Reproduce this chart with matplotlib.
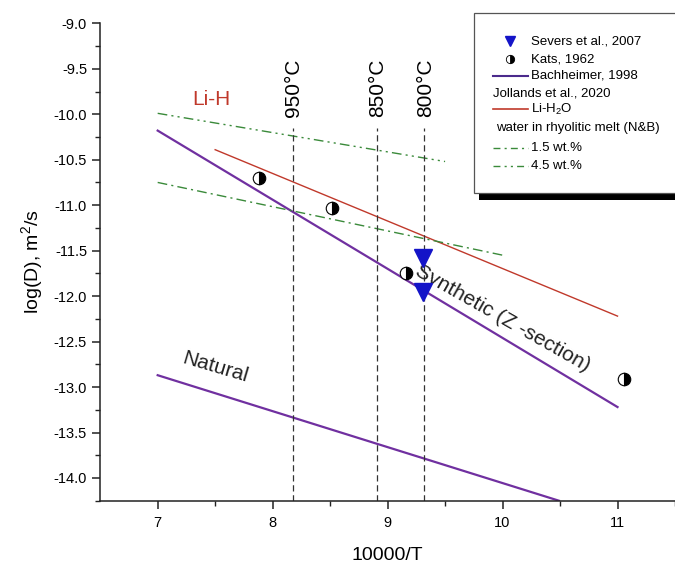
import matplotlib
matplotlib.use("Agg")
import matplotlib.pyplot as plt
from matplotlib.lines import Line2D
from matplotlib.patches import Rectangle

plt.rcParams['font.family'] = ['Liberation Sans', 'DejaVu Sans']
plt.rcParams['mathtext.fontset'] = 'custom'
plt.rcParams['mathtext.rm'] = 'Liberation Sans'
plt.rcParams['mathtext.it'] = 'Liberation Sans:italic'

# Kats, 1962 (10000/T, log D)
kats_x = [7.88, 8.52, 9.16, 11.06]
kats_y = [-10.70, -11.03, -11.75, -12.91]

# Severs et al., 2007
severs_x = [9.31, 9.31]
severs_y = [-11.58, -11.95]

# Bachheimer, 1998: synthetic (Z-section) and natural
synth_x = [7.0, 11.0]
synth_y = [-10.18, -13.22]
natural_x = [7.0, 10.49]
natural_y = [-12.87, -14.25]

# Jollands et al., 2020, Li-H2O
jol_x = [7.5, 11.0]
jol_y = [-10.39, -12.22]

# water in rhyolitic melt (N&B)
w15_x = [7.0, 10.0]
w15_y = [-10.75, -11.55]
w45_x = [7.0, 9.5]
w45_y = [-9.99, -10.52]

# isotherms
temps_c = [950, 850, 800]
temp_x = [10000 / (t + 273.15) for t in temps_c]

purple = '#7030a0'
red = '#c0392b'
green = '#3a8a3a'
blue = '#1414c8'

W, H = 675, 565
fig = plt.figure(figsize=(W / 100, H / 100), dpi=100)
ax = fig.add_axes([100.2 / W, 64.3 / H, 1 - 100.2 / W, 477.4 / H])

ax.plot(synth_x, synth_y, color=purple, lw=1.6)
ax.plot(natural_x, natural_y, color=purple, lw=1.6)
ax.plot(jol_x, jol_y, color=red, lw=1.0)
ax.plot(w15_x, w15_y, color=green, lw=1.0, linestyle=(0, (7, 3, 1.5, 3)))
ax.plot(w45_x, w45_y, color=green, lw=1.0, linestyle=(0, (7, 3, 1.5, 3, 1.5, 3)))

ax.vlines(temp_x, -14.25, -10.15, colors='#333333', lw=0.9, linestyles=(0, (5, 3)))
for t, x in zip(temps_c, temp_x):
    ax.text(x + 0.01, -10.03, f"{t}°C", rotation=90, ha='center', va='bottom',
            fontsize=15)

ax.plot(kats_x, kats_y, 'o', ms=9, fillstyle='right', markerfacecolor='black',
        markerfacecoloralt='white', markeredgecolor='black', mew=0.8, zorder=4)
ax.plot(severs_x, severs_y, 'v', ms=13, color=blue, zorder=5)

ax.text(7.47, -9.84, "Li-H", color=red, fontsize=15, ha='center', va='center')
ax.text(10.0, -12.24, "Synthetic (Z -section)", rotation=-29.5, rotation_mode='anchor',
        ha='center', va='center', fontsize=15, color='#222222')
ax.text(7.50, -12.78, "Natural", rotation=-16.5, rotation_mode='anchor',
        ha='center', va='center', fontsize=15, color='#222222')

ax.set_xlim(6.5, 6.5 + (W - 100.2) / 117)
ax.set_ylim(-14.25, -9.0)
ax.set_xticks([7, 8, 9, 10, 11])
ax.set_xticks([7.5, 8.5, 9.5, 10.5, 11.5], minor=True)
ax.set_yticks([-9.0 - 0.5 * i for i in range(11)])
ax.set_yticks([-9.25 - 0.5 * i for i in range(11)], minor=True)
ax.set_yticklabels([f"{-9.0 - 0.5 * i:.1f}" for i in range(11)])

for s in ['top', 'right']:
    ax.spines[s].set_visible(False)
for s in ['left', 'bottom']:
    ax.spines[s].set_linewidth(1.1)
    ax.spines[s].set_color('#222222')
ax.tick_params(which='major', length=6, width=1.1, labelsize=10.5, color='#222222')
ax.tick_params(which='minor', length=3.3, width=1.0, color='#222222')
ax.tick_params(axis='x', pad=5)
ax.tick_params(axis='y', pad=3.5)

ax.set_xlabel("10000/T", fontsize=14, labelpad=12)
ax.set_ylabel("log(D), m$^2$/s", fontsize=14, labelpad=6)


# legend box, drawn in pixel units from the top-left corner
def fp(x, y):
    return x / W, 1 - y / H


fig.add_artist(Rectangle(fp(479, 200), 220 / W, 181 / H, transform=fig.transFigure,
                         facecolor='black', edgecolor='none', zorder=10))
fig.add_artist(Rectangle(fp(474, 192.7), 230 / W, 179.4 / H, transform=fig.transFigure,
                         facecolor='white', edgecolor='#555555', lw=0.9, zorder=11))

lx0, lx1, tx = 492.7, 528.3, 530.7
fs = 9.5


def leg_text(x, y, s):
    fig.text(*fp(x, y), s, fontsize=fs, va='center', ha='left', zorder=12)


fig.add_artist(Line2D(*zip(fp(510, 40.5)), marker='v', ms=7, color=blue,
                      transform=fig.transFigure, zorder=12))
leg_text(tx, 41.7, "Severs et al., 2007")
fig.add_artist(Line2D(*zip(fp(510, 59.3)), marker='o', ms=6, fillstyle='right',
                      markerfacecolor='black', markerfacecoloralt='white',
                      markeredgecolor='black', mew=0.6, transform=fig.transFigure, zorder=12))
leg_text(tx, 59.3, "Kats, 1962")
fig.add_artist(Line2D(*zip(fp(lx0, 76), fp(lx1, 76)), color='#4b2a8c', lw=1.5,
                      transform=fig.transFigure, zorder=12))
leg_text(tx, 76, "Bachheimer, 1998")
leg_text(lx0, 93.3, "Jollands et al., 2020")
fig.add_artist(Line2D(*zip(fp(lx0, 109.3), fp(lx1, 109.3)), color=red, lw=1.2,
                      transform=fig.transFigure, zorder=12))
leg_text(tx, 109.3, "Li-H$_2$O")
leg_text(496, 127.7, "water in rhyolitic melt (N&B)")
fig.add_artist(Line2D(*zip(fp(lx0, 148.3), fp(lx1, 148.3)), color=green, lw=1.0,
                      linestyle=(0, (5, 3, 1.5, 3)), transform=fig.transFigure, zorder=12))
leg_text(tx, 148.3, "1.5 wt.%")
fig.add_artist(Line2D(*zip(fp(lx0, 166), fp(lx1, 166)), color=green, lw=1.0,
                      linestyle=(0, (5, 3, 1.5, 3, 1.5, 3)), transform=fig.transFigure, zorder=12))
leg_text(tx, 166, "4.5 wt.%")

fig.savefig("out.png", dpi=100)
